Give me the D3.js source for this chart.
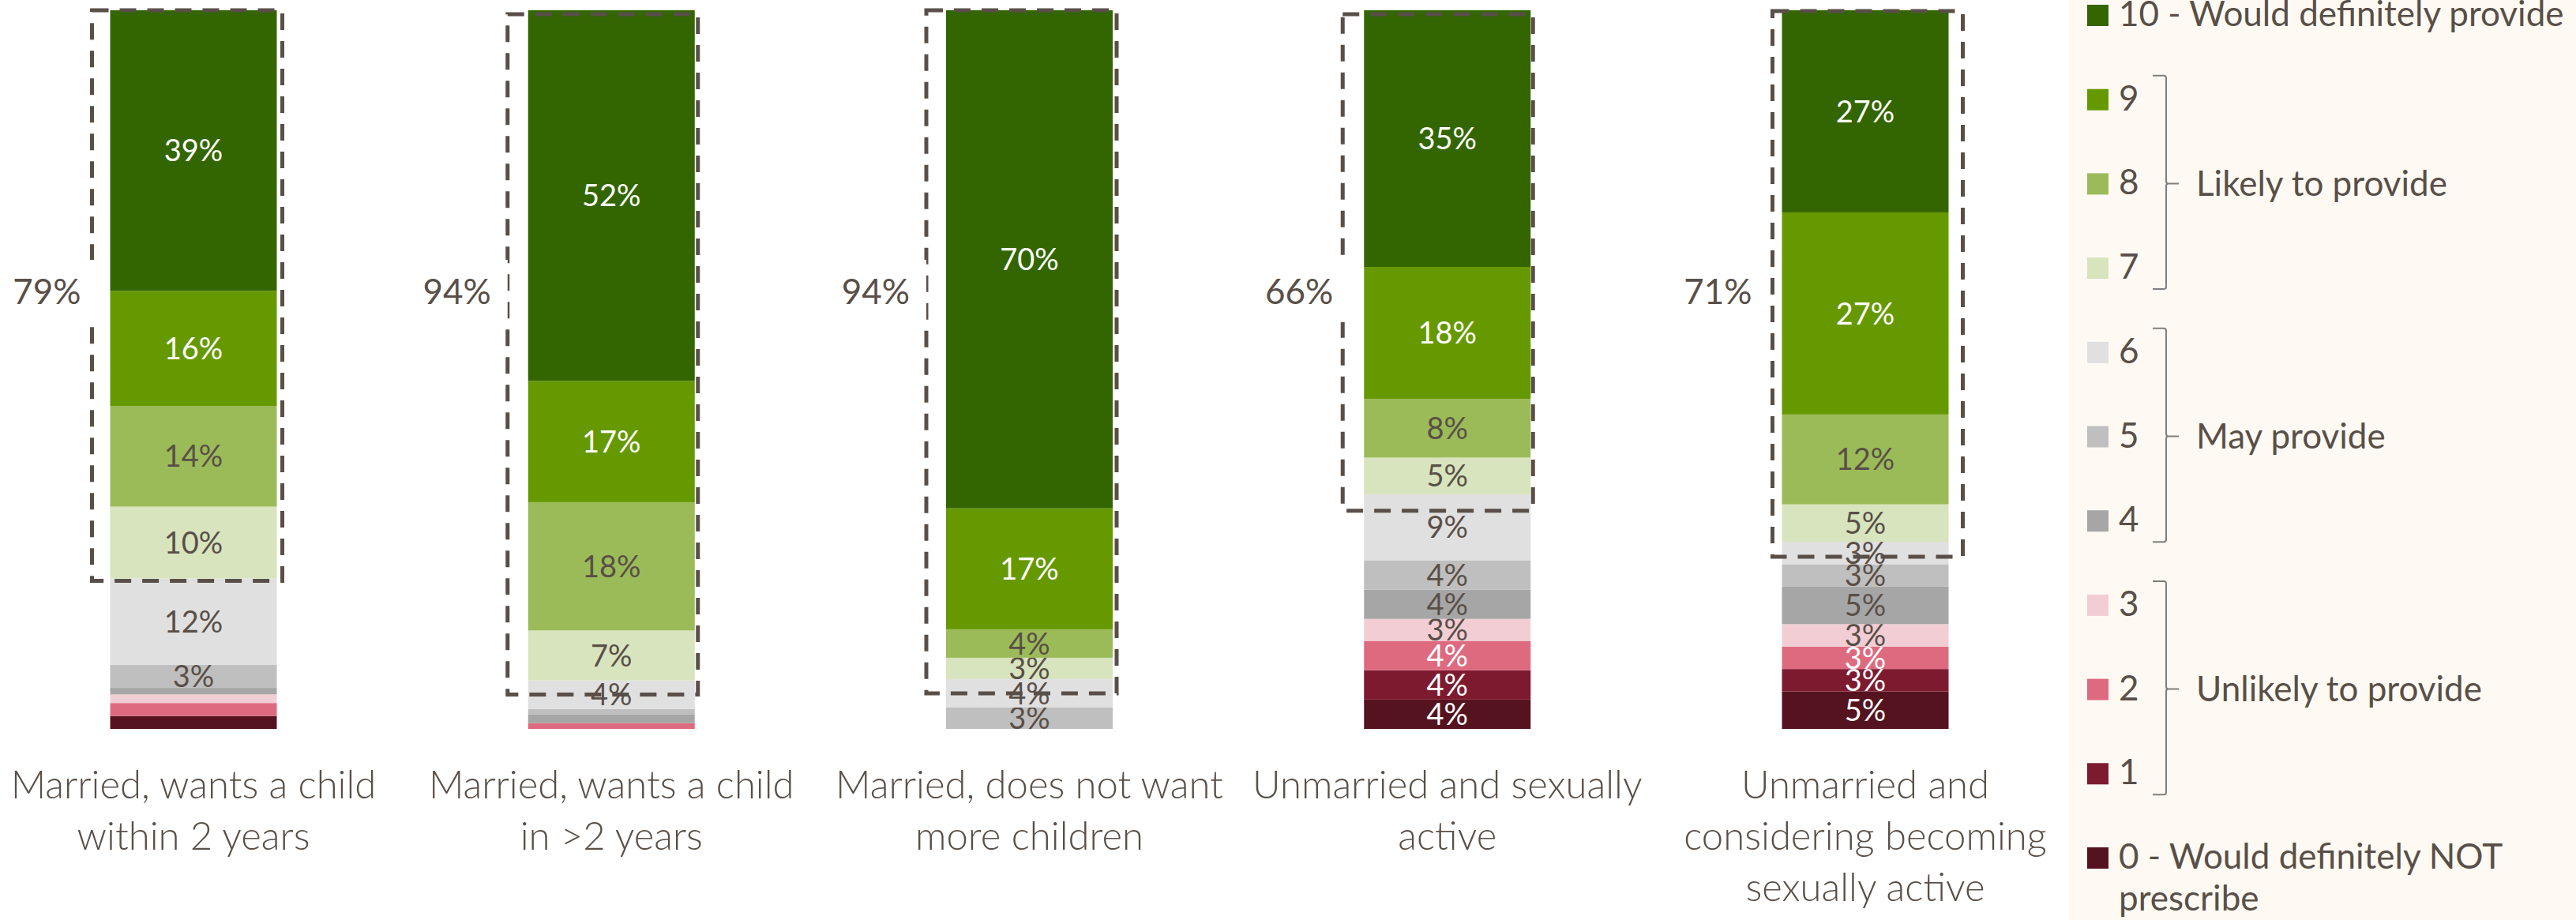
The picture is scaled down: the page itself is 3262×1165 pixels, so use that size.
<!DOCTYPE html>
<html>
<head>
<meta charset="utf-8">
<script src="https://cdn.jsdelivr.net/npm/d3@7"></script>
<style>
  body { margin: 0; background: #fff; }
  text { font-family: Lato, "Open Sans", sans-serif; fill: #594f48; }
</style>
</head>
<body>
<div id="chart"></div>
<script>
// categories, one entry per bar (label lines)
var categories = [
    ["Married, wants a child", "within 2 years"],
    ["Married, wants a child", "in >2 years"],
    ["Married, does not want", "more children"],
    ["Unmarried and sexually", "active"],
    ["Unmarried and", "considering becoming", "sexually active"]
];

// answer levels, top of the bar first (10 ... 0)
var levels = ["10", "9", "8", "7", "6", "5", "4", "3", "2", "1", "0"];
var levelColors = ["#336600", "#669900", "#9bbb59", "#d7e4bd", "#e0e0e0", "#bfbfbf",
                   "#a6a6a6", "#f2cdd4", "#de6a80", "#7e1a2f", "#55131f"];
var whiteText = ["10", "9", "2", "1", "0"];

// % of respondents per level (10 ... 0), one array per category
var within2Years   = [39, 16, 14, 10, 12, 3.2, 0.9, 1.2, 1.8, 0, 1.8];
var over2Years     = [52, 17, 18, 7, 4, 0.8, 1.2, 0, 0.8, 0, 0];
var noMoreChildren = [70, 17, 4, 3, 4, 3, 0, 0, 0, 0, 0];
var unmarriedActive      = [35, 18, 8, 5, 9, 4, 4, 3, 4, 4, 4];
var unmarriedConsidering = [27, 27, 12, 5, 3, 3, 5, 3, 3, 3, 5];
var series = [within2Years, over2Years, noMoreChildren, unmarriedActive, unmarriedConsidering];

// legend
var legendLabels = ["10 - Would definitely provide", "9", "8", "7", "6", "5", "4", "3", "2", "1",
                    ["0 - Would definitely NOT", "prescribe"]];
var groups = [
    {name: "Likely to provide", from: "9", to: "7"},
    {name: "May provide", from: "6", to: "4"},
    {name: "Unlikely to provide", from: "3", to: "1"}
];

// hand placed annotation boxes (offsets in px)
var boxDx = [-23, -26, -25, -27, -12];
var boxTopPad = [0, 5, 0, 5, 1];
var boxBottomPad = [3, 18, 18, 21, 19];
var totalDx = [37, 47, 46, 39, 38];

var width = 3262, height = 1165;
var barWidth = 211;
var ink = "#594f48";

var rows = series.map(function(vals, i) {
    var row = {cat: i};
    levels.forEach(function(l, j) { row[l] = vals[j]; });
    return row;
});

var stack = d3.stack()
    .keys(levels.slice().reverse())
    .offset(d3.stackOffsetExpand);
var stacked = stack(rows);

var x = d3.scalePoint()
    .domain(d3.range(categories.length))
    .range([245, 2362]);

var y = d3.scaleLinear()
    .domain([0, 1])
    .range([923, 13]);

var color = d3.scaleOrdinal().domain(levels).range(levelColors);

var svg = d3.select("#chart").append("svg")
    .attr("width", width)
    .attr("height", height);

// legend panel background
svg.append("rect")
    .attr("x", 2620).attr("y", 0)
    .attr("width", width - 2620).attr("height", height)
    .attr("fill", "#fefaf3");

// bars
var layer = svg.selectAll("g.layer")
    .data(stacked)
    .enter().append("g")
    .attr("class", "layer")
    .attr("fill", function(d) { return color(d.key); });

layer.selectAll("rect")
    .data(function(d) { return d; })
    .enter().append("rect")
    .attr("x", function(d, i) { return x(i) - barWidth / 2; })
    .attr("y", function(d) { return y(d[1]); })
    .attr("width", barWidth)
    .attr("height", function(d) { return y(d[0]) - y(d[1]); });

// dashed boxes round the 7-10 part
var topShare = series.map(function(vals) {
    return d3.sum(vals.slice(0, 4)) / d3.sum(vals);
});

svg.selectAll("rect.box")
    .data(topShare)
    .enter().append("rect")
    .attr("class", "box")
    .attr("x", function(d, i) { return x(i) - barWidth / 2 + boxDx[i]; })
    .attr("y", function(d, i) { return y(1) + boxTopPad[i]; })
    .attr("width", 241)
    .attr("height", function(d, i) { return y(1 - d) + boxBottomPad[i] - y(1) - boxTopPad[i]; })
    .attr("fill", "none")
    .attr("stroke", ink)
    .attr("stroke-width", 5)
    .attr("stroke-dasharray", "21,14");

// segment labels
layer.selectAll("text")
    .data(function(d) { return d.map(function(p, i) { return {key: d.key, p: p, i: i}; }); })
    .enter()
    .filter(function(d) { return series[d.i][levels.indexOf(d.key)] >= 2.5; })
    .append("text")
    .attr("x", function(d) { return x(d.i); })
    .attr("y", function(d) { return (y(d.p[0]) + y(d.p[1])) / 2; })
    .attr("dy", "0.36em")
    .attr("text-anchor", "middle")
    .style("font-size", "38px")
    .style("fill", function(d) { return whiteText.indexOf(d.key) >= 0 ? "#fff" : ink; })
    .text(function(d) { return Math.round(series[d.i][levels.indexOf(d.key)]) + "%"; });

// totals on the left of each box
var totals = svg.selectAll("g.total")
    .data(series)
    .enter().append("g")
    .attr("class", "total");

totals.append("rect")
    .attr("x", function(d, i) { return x(i) - barWidth / 2 - totalDx[i] - 99; })
    .attr("y", 329)
    .attr("width", 120)
    .attr("height", 79)
    .attr("fill", "#fff");

totals.append("text")
    .attr("x", function(d, i) { return x(i) - barWidth / 2 - totalDx[i]; })
    .attr("y", 369)
    .attr("dy", "0.36em")
    .attr("text-anchor", "end")
    .style("font-size", "44px")
    .text(function(d) { return d3.sum(d.slice(0, 4)) + "%"; });

// category labels
svg.selectAll("text.cat")
    .data(categories)
    .enter().append("text")
    .attr("class", "cat")
    .attr("text-anchor", "middle")
    .style("font-size", "49px")
    .style("font-weight", 300)
    .each(function(lines, i) {
        d3.select(this).selectAll("tspan")
            .data(lines)
            .enter().append("tspan")
            .attr("x", x(i))
            .attr("y", function(l, k) { return 1011 + k * 65; })
            .text(function(l) { return l; });
    });

// legend
var ly = d3.scalePoint().domain(levels).range([19, 1086]);

var item = svg.selectAll("g.item")
    .data(levels)
    .enter().append("g")
    .attr("class", "item")
    .attr("transform", function(d) { return "translate(2643," + ly(d) + ")"; });

item.append("rect")
    .attr("x", 0).attr("y", -13)
    .attr("width", 27).attr("height", 27)
    .attr("fill", function(d) { return color(d); });

item.append("text")
    .attr("x", 40)
    .style("font-size", "44px")
    .each(function(d, i) {
        var lab = legendLabels[i];
        var lines = Array.isArray(lab) ? lab : [lab];
        d3.select(this).selectAll("tspan")
            .data(lines)
            .enter().append("tspan")
            .attr("x", 40)
            .attr("y", function(l, k) { return 14 + k * 53; })
            .text(function(l) { return l; });
    });

// brackets for the grouped levels
var bx = 2743;
groups.forEach(function(g) {
    var top = ly(g.from) - 30, bottom = ly(g.to) + 27;
    var mid = ly(levels[levels.indexOf(g.from) + 1]);
    var path = d3.path();
    path.moveTo(bx - 17, top);
    path.lineTo(bx - 3, top);
    path.quadraticCurveTo(bx, top, bx, top + 3);
    path.lineTo(bx, mid - 3);
    path.quadraticCurveTo(bx, mid, bx + 3, mid);
    path.lineTo(bx + 16, mid);
    path.moveTo(bx + 3, mid);
    path.quadraticCurveTo(bx, mid, bx, mid + 3);
    path.lineTo(bx, bottom - 3);
    path.quadraticCurveTo(bx, bottom, bx - 3, bottom);
    path.lineTo(bx - 17, bottom);

    svg.append("path")
        .attr("d", path.toString())
        .attr("fill", "none")
        .attr("stroke", "#7f7f7f")
        .attr("stroke-width", 2);

    svg.append("text")
        .attr("x", bx + 38)
        .attr("y", mid)
        .attr("dy", "0.36em")
        .style("font-size", "44px")
        .text(g.name);
});
</script>
</body>
</html>
